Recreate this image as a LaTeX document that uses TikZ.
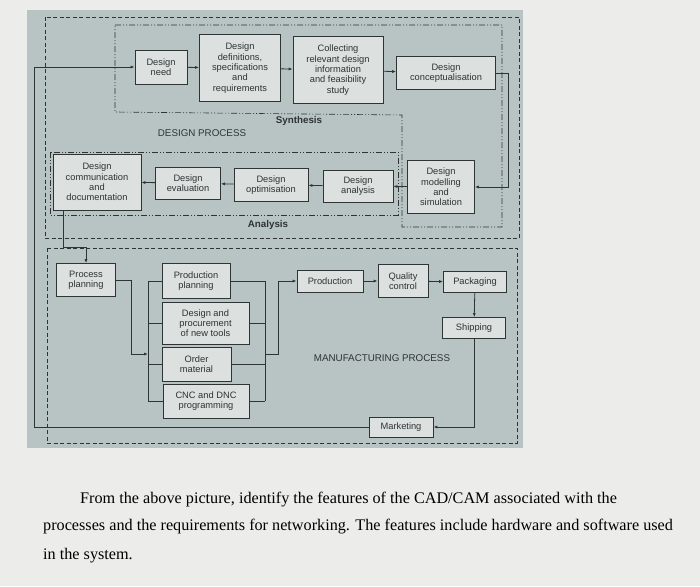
\documentclass[tikz,border=0pt]{standalone}
\usepackage{fontspec}
\setmainfont{Liberation Serif}
\newfontfamily\dsans{Liberation Sans}
\usetikzlibrary{arrows.meta}
\definecolor{pagebg}{HTML}{ECECEA}
\definecolor{panel}{HTML}{B8C4C4}
\definecolor{boxf}{HTML}{DCE1E0}
\definecolor{ink}{HTML}{2E3333}
\begin{document}
\begin{tikzpicture}[x=1pt,y=-1pt,
  bx/.style={draw=ink,fill=boxf,line width=0.7pt,inner sep=0pt,align=center,font=\dsans\fontsize{9.3}{10.3}\selectfont,text=ink},
  ln/.style={draw=ink,line width=0.8pt},
  ar/.style={ln,-{Latex[length=4pt,width=3pt]}},
  dsh/.style={draw=ink,line width=0.6pt,dash pattern=on 4pt off 2.5pt},
  dd/.style={draw=ink,line width=0.6pt,dash pattern=on 6pt off 2pt on 1pt off 2pt on 1pt off 2pt},
  lab/.style={font=\dsans\fontsize{9.8}{11}\selectfont,text=ink},
  captxt/.style={anchor=west,font=\fontsize{16.2}{19}\selectfont,inner sep=0pt}]
\fill[pagebg] (0,0) rectangle (700,586);
\useasboundingbox (0,0) rectangle (700,586);
\fill[panel] (27,10) rectangle (523,448);
% groups
\draw[dsh] (45,17) rectangle (519,238);
\draw[dd] (115,25) -- (502,25) -- (502,227) -- (402,227) -- (402,115) -- (115,112) -- cycle;
\draw[dd] (50,152) rectangle (398,215);
\draw[dsh] (47,248) rectangle (517,443);
% design boxes
\node[bx,minimum width=52,minimum height=34] (need) at (161,67) {Design\\need};
\node[bx,minimum width=81,minimum height=67] (def) at (240,68) {Design\\definitions,\\specifications\\and\\requirements};
\node[bx,minimum width=90,minimum height=67] (col) at (338,70) {Collecting\\relevant design\\information\\and feasibility\\study};
\node[bx,minimum width=99,minimum height=33] (con) at (446,73) {Design\\conceptualisation};
\node[bx,minimum width=67,minimum height=53] (mod) at (441,187) {Design\\modelling\\and\\simulation};
\node[bx,minimum width=70,minimum height=32] (ana) at (358,186) {Design\\analysis};
\node[bx,minimum width=74,minimum height=33] (opt) at (271,185) {Design\\optimisation};
\node[bx,minimum width=65,minimum height=32] (eva) at (188,183) {Design\\evaluation};
\node[bx,minimum width=88,minimum height=56] (com) at (97,182) {Design\\communication\\and\\documentation};
\node[lab,font=\dsans\bfseries\fontsize{9.8}{11}\selectfont] (syn) at (299,121) {Synthesis};
\node[lab] (dp) at (202,133) {DESIGN PROCESS};
\node[lab,font=\dsans\bfseries\fontsize{9.8}{11}\selectfont] (anl) at (268,225) {Analysis};
% manufacturing boxes
\node[bx,minimum width=59,minimum height=33] (pp) at (86,280) {Process\\planning};
\node[bx,minimum width=68,minimum height=35] (prp) at (196,281) {Production\\planning};
\node[bx,minimum width=87,minimum height=42] (dpt) at (205.5,323) {Design and\\procurement\\of new tools};
\node[bx,minimum width=69,minimum height=34] (om) at (196.5,364) {Order\\material};
\node[bx,minimum width=86,minimum height=34] (cnc) at (206,401) {CNC and DNC\\programming};
\node[bx,minimum width=66,minimum height=22] (prod) at (330,281) {Production};
\node[bx,minimum width=50,minimum height=33] (qc) at (403,281) {Quality\\control};
\node[bx,minimum width=63,minimum height=21] (pack) at (475,282) {Packaging};
\node[bx,minimum width=63,minimum height=21] (ship) at (474,328) {Shipping};
\node[bx,minimum width=64,minimum height=20] (mkt) at (401,427) {Marketing};
\node[lab] (mp) at (382,358) {MANUFACTURING PROCESS};
% connectors design
\draw[ar] (need) -- (def);
\draw[ar] (def) -- (col);
\draw[ar] (col) -- (con);
\draw[ar] (con.east) -- ++(13,0) |- (mod.east);
\draw[ar] (mod) -- (ana);
\draw[ar] (ana) -- (opt);
\draw[ar] (opt) -- (eva);
\draw[ar] (eva) -- (com);
\draw[ar] (mkt.west) -- (34,427) |- (need.west);
\draw[ar] (com.south -| 63,0) -- (63,247) -| (pp.north);
% connectors manufacturing
\draw[ar] (pp.east) -- (131,280) |- (148,354);
\draw[ln] (148,281) -- (148,401);
\draw[ln] (148,281) -- (prp.west);
\draw[ln] (148,323) -- (dpt.west);
\draw[ln] (148,364) -- (om.west);
\draw[ln] (148,401) -- (cnc.west);
\draw[ln] (265,281) -- (265,401);
\draw[ln] (prp.east) -- (265,281);
\draw[ln] (dpt.east) -- (265,323);
\draw[ln] (om.east) -- (265,364);
\draw[ln] (cnc.east) -- (265,401);
\draw[ar] (265,354) -- (278,354) |- (prod.west);
\draw[ar] (prod) -- (qc);
\draw[ar] (qc) -- (pack);
\draw[ar] (pack) -- (ship);
\draw[ar] (ship.south) |- (mkt.east);
% caption
\node[captxt] (t1) at (80,500) {From the above picture, identify the features of the CAD/CAM associated with the};
\node[captxt] (t2) at (43,527) {processes and the requirements for networking. The features include hardware and software used};
\node[captxt] (t3) at (43,556) {in the system.};
\end{tikzpicture}
\end{document}
